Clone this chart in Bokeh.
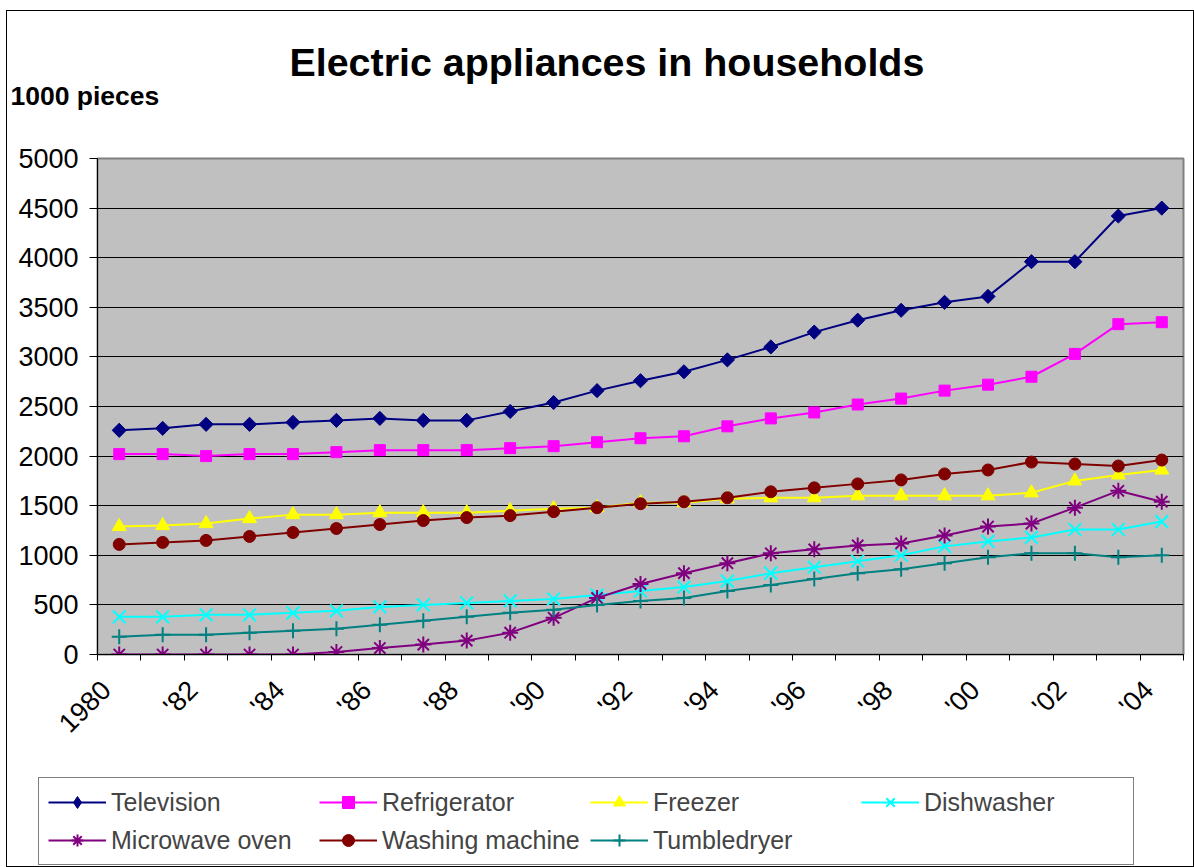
import math
from bokeh.plotting import figure
from bokeh.layouts import column
from bokeh.models import (Legend, LegendItem, FixedTicker, Title, Range1d)
from bokeh.embed import file_html
from bokeh.resources import INLINE

years = list(range(1980, 2005))
tick_labels = {0: "1980", 2: "'82", 4: "'84", 6: "'86", 8: "'88", 10: "'90", 12: "'92",
               14: "'94", 16: "'96", 18: "'98", 20: "'00", 22: "'02", 24: "'04"}

television = [2260, 2280, 2320, 2320, 2340, 2360, 2380, 2360, 2360, 2450, 2540, 2660, 2760,
              2850, 2970, 3100, 3250, 3370, 3470, 3550, 3610, 3960, 3960, 4420, 4500]
refrigerator = [2020, 2020, 2000, 2020, 2020, 2040, 2060, 2060, 2060, 2080, 2100, 2140, 2180,
                2200, 2300, 2380, 2440, 2520, 2580, 2660, 2720, 2800, 3030, 3330, 3350]
freezer = [1290, 1300, 1320, 1370, 1410, 1410, 1430, 1430, 1430, 1450, 1470, 1480, 1530,
           1530, 1570, 1580, 1580, 1600, 1600, 1600, 1600, 1630, 1750, 1810, 1860]
dishwasher = [380, 380, 400, 400, 420, 440, 480, 500, 520, 540, 560, 600, 640,
              680, 740, 820, 880, 940, 1000, 1090, 1140, 1180, 1260, 1260, 1340]
microwave = [0, 0, 0, 0, 0, 25, 65, 100, 140, 220, 370, 570, 710,
             820, 920, 1020, 1060, 1100, 1120, 1200, 1290, 1320, 1480, 1650, 1540]
washing = [1110, 1130, 1150, 1190, 1230, 1270, 1310, 1350, 1380, 1400, 1440, 1480, 1520,
           1540, 1580, 1640, 1680, 1720, 1760, 1820, 1860, 1940, 1920, 1900, 1960]
tumbledryer = [180, 200, 200, 220, 240, 260, 300, 340, 380, 420, 450, 500, 540,
               570, 640, 700, 760, 820, 860, 920, 980, 1020, 1020, 980, 1000]

# name, values, colour, plot marker, size, angle, legend marker, legend size
series = [
    ("Television", television, "#000080", "square", 10, math.pi / 4, "diamond", 15),
    ("Refrigerator", refrigerator, "#FF00FF", "square", 11, 0, "square", 9),
    ("Freezer", freezer, "#FFFF00", "triangle", 14, 0, "triangle", 12),
    ("Dishwasher", dishwasher, "#00FFFF", "x", 18, 0, "x", 16),
    ("Microwave oven", microwave, "#800080", "asterisk", 16, 0, "asterisk", 14),
    ("Washing machine", washing, "#800000", "circle", 12, 0, "circle", 10),
    ("Tumbledryer", tumbledryer, "#008080", "cross", 15, 0, "cross", 13),
]
OPEN_MARKERS = ("x", "asterisk", "cross")

FONT = "Liberation Sans"
LABEL_SHIFT = 0.3  # rotated labels end slightly left of the category centre
W = 1186

p = figure(width=W, height=761, output_backend="svg", toolbar_location=None,
           x_range=Range1d(-0.5, len(years) - 0.5), y_range=Range1d(0, 5000),
           title=None)
p.frame_align = False
p.min_border_left = 90
p.min_border_right = 10
p.min_border_top = 147
p.min_border_bottom = 118
p.background_fill_color = "#C0C0C0"
p.border_fill_color = "white"
p.outline_line_color = "#808080"
p.outline_line_width = 2

p.add_layout(Title(text="1000 pieces", align="left", offset=-87, text_font=FONT,
                   text_font_size="26.5px", text_font_style="bold", text_color="black",
                   standoff=95), "above")
p.add_layout(Title(text="Electric appliances in households", align="left", offset=192,
                   text_font=FONT, text_font_size="39.4px", text_font_style="bold",
                   text_color="black", standoff=-105), "above")

xs = list(range(len(years)))
for name, vals, color, marker, size, ang, _lm, _ls in series:
    p.line(xs, vals, line_color=color, line_width=2)
    if marker in OPEN_MARKERS:
        p.scatter(xs, vals, marker=marker, size=size, line_color=color, line_width=2,
                  fill_color=None)
    else:
        p.scatter(xs, vals, marker=marker, size=size, angle=ang, line_color=color,
                  fill_color=color)

# y axis
p.yaxis.ticker = FixedTicker(ticks=list(range(0, 5001, 500)))
p.yaxis.axis_line_color = "black"
p.yaxis.major_tick_out = 8
p.yaxis.major_tick_in = 0
p.yaxis.minor_tick_line_color = None
p.yaxis.major_label_standoff = 11
p.yaxis.major_label_text_font = FONT
p.yaxis.major_label_text_font_size = "27px"
p.yaxis.major_label_text_color = "black"

# x axis
label_pos = [k - LABEL_SHIFT for k in tick_labels]
p.xaxis.ticker = FixedTicker(ticks=label_pos,
                             minor_ticks=[i - 0.5 for i in range(len(years) + 1)])
p.xaxis.major_label_overrides = {k - LABEL_SHIFT: v for k, v in tick_labels.items()}
p.xaxis.major_label_orientation = math.pi / 4
p.xaxis.major_tick_out = 0
p.xaxis.major_tick_in = 0
p.xaxis.minor_tick_out = 6
p.xaxis.minor_tick_in = 0
p.xaxis.minor_tick_line_color = "black"
p.xaxis.axis_line_color = "black"
p.xaxis.major_label_standoff = 25
p.xaxis.major_label_text_font = FONT
p.xaxis.major_label_text_font_size = "27px"
p.xaxis.major_label_text_color = "black"

p.xgrid.grid_line_color = None
p.ygrid.grid_line_color = "black"
p.ygrid.grid_line_width = 1

# legend strip (its own plot, so the legend may start left of the chart frame)
q = figure(width=W, height=94, output_backend="svg", toolbar_location=None,
           x_range=Range1d(0, 1), y_range=Range1d(0, 1),
           x_axis_location=None, y_axis_location=None, title=None)
q.frame_align = False
q.min_border_left = 0
q.min_border_right = 0
q.min_border_top = 0
q.min_border_bottom = 0
q.outline_line_color = None
q.background_fill_color = "white"
q.xgrid.grid_line_color = None
q.ygrid.grid_line_color = None

items = []
for name, vals, color, marker, size, ang, lmarker, lsize in series:
    hidden = [-10]
    r1 = q.line(x=hidden, y=hidden, line_color=color, line_width=2)
    if lmarker in OPEN_MARKERS:
        r2 = q.scatter(x=hidden, y=hidden, marker=lmarker, size=lsize, line_color=color,
                       line_width=2, fill_color=None)
    else:
        r2 = q.scatter(x=hidden, y=hidden, marker=lmarker, size=lsize,
                       line_color=color, fill_color=color)
    items.append(LegendItem(label=name, renderers=[r1, r2]))

legend = Legend(items=items, location=(31, 1), orientation="horizontal", ncols=4,
                label_text_font=FONT, label_text_font_size="25px",
                glyph_width=58, glyph_height=30, label_height=30, label_width=200,
                label_standoff=5, spacing=8, padding=9, margin=0,
                border_line_color="black", border_line_width=1,
                background_fill_color="white", background_fill_alpha=1)
q.add_layout(legend, "center")

layout = column(p, q, spacing=0,
                styles={"border": "1px solid black", "margin-left": "6px",
                        "margin-top": "10px"})

open("out.html", "w").write(file_html(layout, INLINE))
